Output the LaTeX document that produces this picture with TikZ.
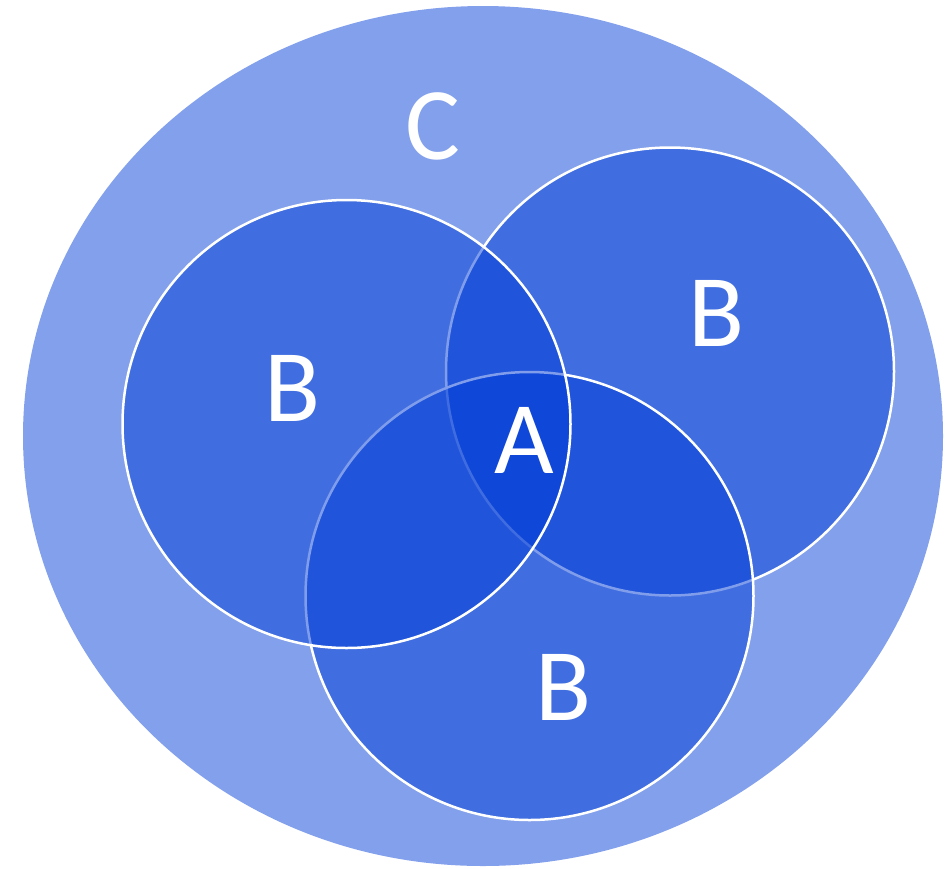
\documentclass[tikz,border=0pt]{standalone}
\usepackage{fontspec}
\setmainfont{Carlito}
\definecolor{outerblue}{RGB}{130,160,235}
\definecolor{setblue}{RGB}{0,60,215}
\tikzset{
  setcircle/.style={fill=setblue, fill opacity=0.5, draw=white, draw opacity=1, line width=2.5pt},
  lbl/.style={text=white, inner sep=0pt, font=\fontsize{103}{103}\selectfont}
}
\begin{document}
\begin{tikzpicture}[x=1pt,y=-1pt]
\useasboundingbox (0,0) rectangle (952,868);
\fill[outerblue] (483,436) ellipse [x radius=460, y radius=430];
\path[setcircle] (670,371.5) circle [radius=224];
\path[setcircle] (529.5,596) circle [radius=224];
\path[setcircle] (346.5,424) circle [radius=224];
\node[lbl] (c) at (433,126) {C};
\node[lbl] (b1) at (293,388) {B};
\node[lbl] (b2) at (717,313) {B};
\node[lbl] (b3) at (564,687) {B};
\node[lbl] (a) at (524,440) {A};
\end{tikzpicture}
\end{document}
